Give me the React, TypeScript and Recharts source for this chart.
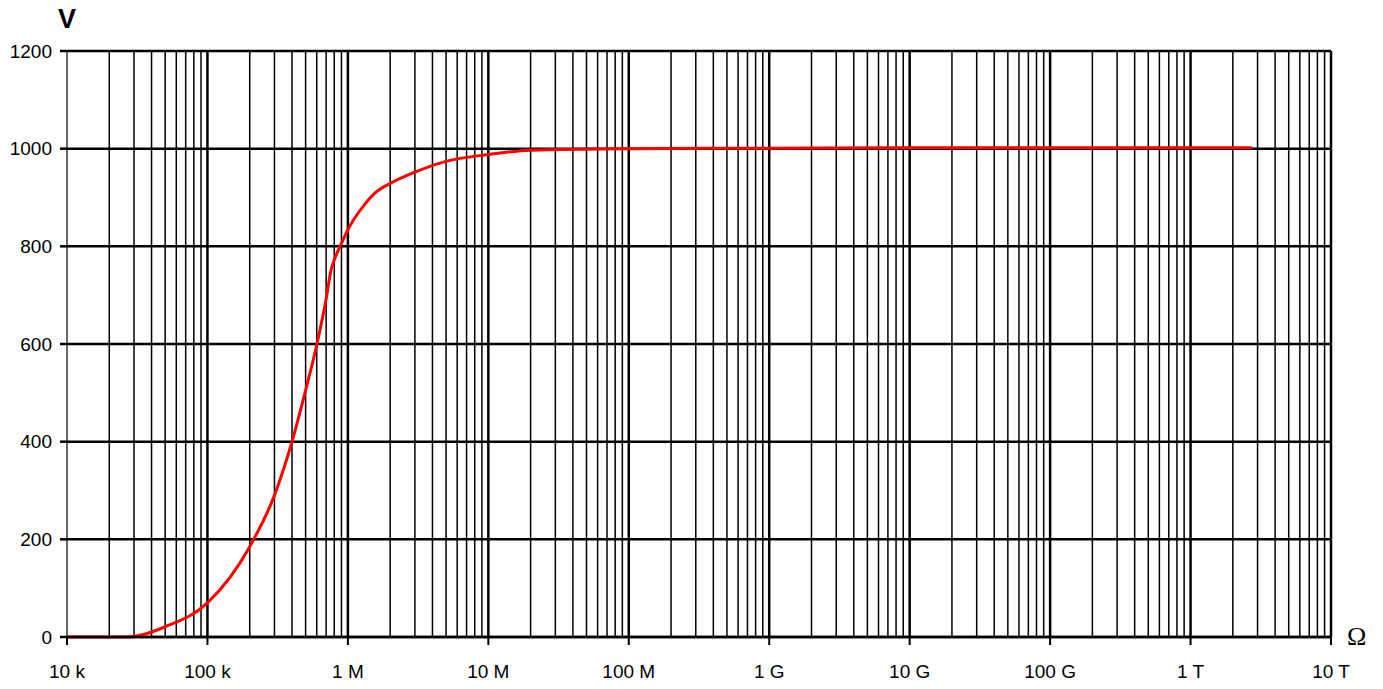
import React from "react";
import { LineChart, Line, XAxis, YAxis, CartesianGrid, ReferenceLine } from "recharts";

// Resistance (Ω) values and measured voltage (V)
const resistance = [1e4, 2e4, 2.7e4, 5e4, 1e5, 2e5, 3e5, 4e5, 5e5, 6e5, 7e5, 7.6e5, 8e5, 9e5, 1e6, 1.3e6, 1.6e6, 2e6, 3e6, 5e6, 1e7, 2e7, 1e8, 1e9, 1e10, 1e11, 1e12, 2.75e12];
const voltage = [0, 0, 0, 21, 70, 185, 290, 400, 505, 598, 692, 752, 772, 806, 834, 884, 912, 929, 952, 974, 988, 997, 1000, 1001, 1002, 1002, 1002, 1002];

const xTicks = [1e4, 1e5, 1e6, 1e7, 1e8, 1e9, 1e10, 1e11, 1e12, 1e13];
const xTickLabels = ["10 k", "100 k", "1 M", "10 M", "100 M", "1 G", "10 G", "100 G", "1 T", "10 T"];
const yTicks = [0, 200, 400, 600, 800, 1000, 1200];
const minorMultipliers = [2, 3, 4, 5, 6, 7, 8, 9];

const data = resistance.map((r, i) => ({ r, v: voltage[i] }));
const minorGrid: number[] = [];
xTicks.slice(0, -1).forEach((d) => minorMultipliers.forEach((m) => minorGrid.push(d * m)));

const FONT = "'Liberation Sans', Arial, sans-serif";

export default function App() {
  return (
    <div style={{ position: "absolute", left: 0, top: 0, width: 1383, height: 689, background: "#fff" }}>
      <LineChart width={1383} height={689} data={data} margin={{ top: 51, right: 52, bottom: 22, left: 0 }}>
        <CartesianGrid vertical={false} stroke="#000" strokeWidth={2.5} strokeOpacity={1} />
        {minorGrid.map((v) => (
          <ReferenceLine key={"m" + v} x={v} stroke="#000" strokeWidth={1.5} />
        ))}
        {xTicks.slice(1).map((v) => (
          <ReferenceLine key={"M" + v} x={v} stroke="#000" strokeWidth={2.5} />
        ))}
        <XAxis
          dataKey="r"
          type="number"
          scale="log"
          domain={[1e4, 1e13]}
          ticks={xTicks}
          tickFormatter={(v: number) => xTickLabels[xTicks.indexOf(v)] ?? ""}
          interval={0}
          height={30}
          tickSize={8}
          tickMargin={20}
          axisLine={{ stroke: "#000", strokeWidth: 2.5 }}
          tickLine={{ stroke: "#000", strokeWidth: 2 }}
          tick={{ fill: "#000", fontSize: 19, fontFamily: FONT }}
        />
        <YAxis
          type="number"
          domain={[0, 1200]}
          ticks={yTicks}
          interval={0}
          width={67}
          tickSize={7}
          tickMargin={8}
          axisLine={{ stroke: "#000", strokeWidth: 1.2 }}
          tickLine={{ stroke: "#000", strokeWidth: 2.5 }}
          tick={{ fill: "#000", fontSize: 19, fontFamily: FONT }}
        />
        <Line
          dataKey="v"
          type="monotone"
          stroke="#ff0000"
          strokeWidth={3}
          dot={false}
          activeDot={false}
          isAnimationActive={false}
        />
      </LineChart>
      <svg width={1383} height={689} style={{ position: "absolute", left: 0, top: 0, pointerEvents: "none" }}>
        <text x={58} y={28} fontFamily={FONT} fontWeight="bold" fontSize={27} fill="#000">V</text>
        <text x={1347} y={645} fontFamily="'Liberation Serif', 'Times New Roman', serif" fontSize={26} fill="#000">Ω</text>
      </svg>
    </div>
  );
}
